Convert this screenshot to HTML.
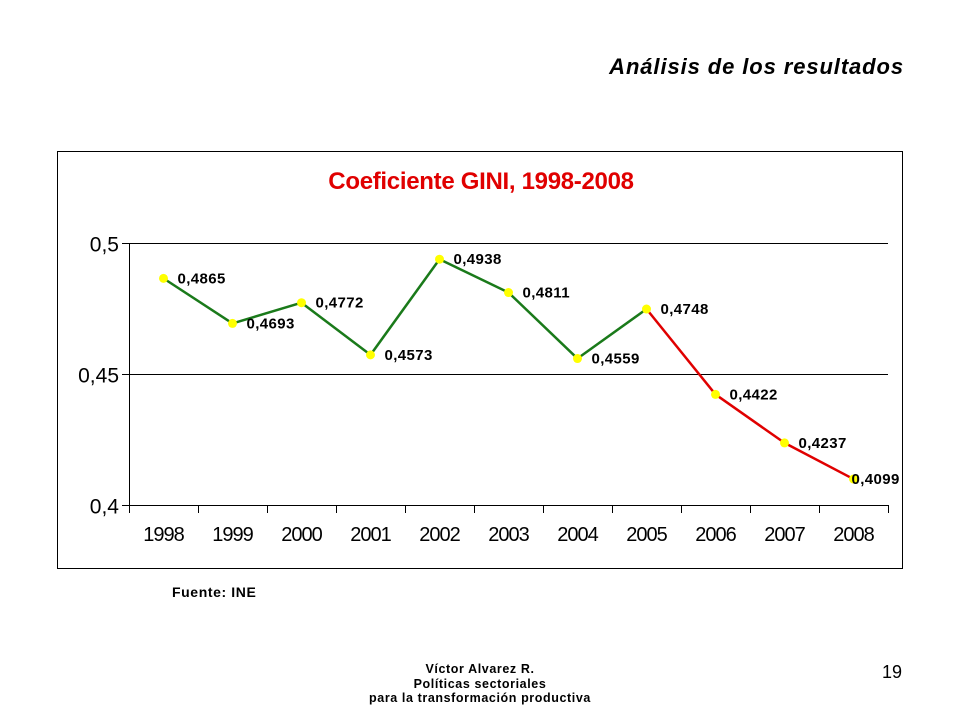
<!DOCTYPE html>
<html><head><meta charset="utf-8"><style>
body{margin:0;background:#fff;width:960px;height:720px;overflow:hidden;font-family:"Liberation Sans",Arial,sans-serif;}
.abs{position:absolute;}
</style></head><body>
<div class="abs" style="left:500px;top:54px;width:404px;text-align:right;font-size:22px;letter-spacing:0.9px;font-weight:bold;font-style:italic;">Análisis de los resultados</div>
<svg class="abs" style="left:0;top:0" width="960" height="720">
<rect x="57.5" y="151.5" width="845" height="417" fill="#fff" stroke="#000" stroke-width="1"/>
<text x="481" y="189" text-anchor="middle" font-size="24" font-weight="bold" fill="#e00000" letter-spacing="-0.3">Coeficiente GINI, 1998-2008</text>
<g id="g"></g>
</svg>
<div class="abs" style="left:172px;top:584px;font-size:14px;letter-spacing:0.6px;font-weight:bold;">Fuente: INE</div>
<div class="abs" style="left:300px;top:662px;width:360px;text-align:center;font-size:12.5px;letter-spacing:0.6px;font-weight:bold;line-height:14.5px;">Víctor Alvarez R.<br>Políticas sectoriales<br>para la transformación productiva</div>
<div class="abs" style="left:882px;top:662px;font-size:18px;">19</div>
<script>
const years=["1998","1999","2000","2001","2002","2003","2004","2005","2006","2007","2008"];
const values=[0.4865,0.4693,0.4772,0.4573,0.4938,0.4811,0.4559,0.4748,0.4422,0.4237,0.4099];
const valueLabels=["0,4865","0,4693","0,4772","0,4573","0,4938","0,4811","0,4559","0,4748","0,4422","0,4237","0,4099"];
const yTicks=[0.4,0.45,0.5];
const yTickLabels=["0,4","0,45","0,5"];
const redStart=7;
const NS="http://www.w3.org/2000/svg";
const g=document.getElementById('g');
const L=129,R=888,T=243,B=505,ymin=0.4,ymax=0.5;
const step=(R-L)/years.length;
const xs=i=>L+step*(i+0.5);
const ys=v=>B-(v-ymin)/(ymax-ymin)*(B-T);
function mk(t,a){const e=document.createElementNS(NS,t);for(const k in a)e.setAttribute(k,a[k]);g.appendChild(e);return e;}
yTicks.forEach((v,i)=>{
 const y=Math.round(ys(v))+0.5;
 const ln=mk('line',{x1:L-7,x2:R,y1:y,y2:y,stroke:'#000','stroke-width':1});
 
 
 const t=mk('text',{x:L-10,y:y+8,'text-anchor':'end','font-size':21});
 t.textContent=yTickLabels[i];
 
 
});
const ax=mk('line',{x1:L+0.5,x2:L+0.5,y1:T,y2:B+8,stroke:'#000'});


for(let i=0;i<=years.length;i++){
 const x=Math.round(L+step*i)+0.5;
 const tk=mk('line',{x1:x,x2:x,y1:B,y2:B+8,stroke:'#000'});
 
 
}
years.forEach((y,i)=>{
 const t=mk('text',{x:xs(i),y:B+36,'text-anchor':'middle','font-size':20,'letter-spacing':'-1'});
 t.textContent=y;
 
 
});
for(let i=0;i<values.length-1;i++){
 const s=mk('line',{x1:xs(i),y1:ys(values[i]),x2:xs(i+1),y2:ys(values[i+1]),stroke:i>=redStart?'#e00000':'#1a7a1a','stroke-width':2.5});
 
 
}
values.forEach((v,i)=>{
 const c=mk('circle',{cx:xs(i),cy:ys(v),r:4.5,fill:'#ffff00'});
 
 
 const t=mk('text',{x:xs(i)+(i==values.length-1?-2:14),y:ys(v)+5,'font-size':15,'letter-spacing':'0.4','font-weight':'bold'});
 t.textContent=valueLabels[i];
 
 
});
</script>
</body></html>
